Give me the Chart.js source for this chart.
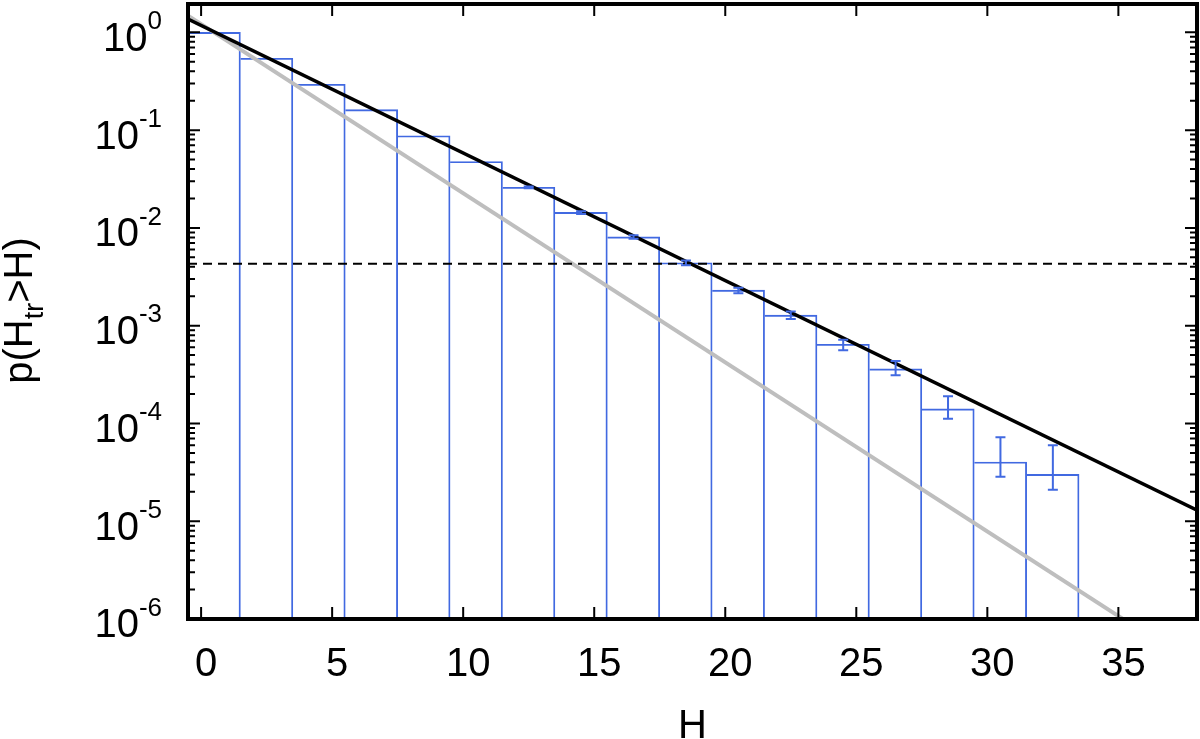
<!DOCTYPE html>
<html>
<head>
<meta charset="utf-8">
<script src="https://cdn.jsdelivr.net/npm/chart.js@4.4.1/dist/chart.umd.min.js"></script>
<style>
html, body { margin: 0; padding: 0; background: #fff; }
#wrap { width: 1200px; height: 739px; }
</style>
</head>
<body>
<div id="wrap"><canvas id="chart" width="1200" height="739"></canvas></div>
<script>
// histogram of p(H_tr > H), bins of width 2
const binCenters = [0.5, 2.5, 4.5, 6.5, 8.5, 10.5, 12.5, 14.5, 16.5, 18.5, 20.5, 22.5, 24.5, 26.5, 28.5, 30.5, 32.5];
const pValues = [1.0, 0.543, 0.294, 0.162, 0.0875, 0.0478, 0.0260, 0.0144, 0.00809, 0.00440, 0.00231, 0.00128, 6.45e-4, 3.61e-4, 1.41e-4, 4.03e-5, 3.01e-5];
const errLow = [0.998, 0.540, 0.292, 0.160, 0.0865, 0.0471, 0.0255, 0.0139, 0.00775, 0.00415, 0.00214, 0.00117, 5.6e-4, 3.11e-4, 1.12e-4, 2.85e-5, 2.10e-5];
const errHigh = [1.002, 0.546, 0.296, 0.164, 0.0885, 0.0485, 0.0265, 0.0148, 0.00840, 0.00464, 0.00244, 0.00140, 7.2e-4, 4.35e-4, 1.90e-4, 7.24e-5, 5.97e-5];

// exponential fits
const fitX = [-0.5, 38];
const fitY = [1.37, 1.30e-5];
const refX = [-0.5, 36];
const refY = [1.48, 7.2e-7];

// threshold level
const levelX = [-0.5, 38];
const levelY = [4.3e-3, 4.3e-3];

const xTicks = [0, 5, 10, 15, 20, 25, 30, 35];
const yDecades = [-6, -5, -4, -3, -2, -1, 0];

const FONT = "'Liberation Sans', Arial, Helvetica, sans-serif";
const BLUE = '#4169e1';

const pts = (xs, ys) => xs.map((x, i) => ({x: x, y: ys[i]}));

const gnuplotFrame = {
    id: 'gnuplotFrame',
    afterDatasetsDraw(chart) {
        const {ctx, scales: {x, y}} = chart;
        ctx.save();
        ctx.strokeStyle = BLUE;
        ctx.lineWidth = 2;
        binCenters.forEach((c, i) => {
            const px = x.getPixelForValue(c);
            const lo = y.getPixelForValue(errLow[i]);
            const hi = y.getPixelForValue(errHigh[i]);
            if (Math.abs(lo - hi) < 1.5) return;
            ctx.beginPath();
            ctx.moveTo(px, lo); ctx.lineTo(px, hi);
            ctx.moveTo(px - 5, lo); ctx.lineTo(px + 5, lo);
            ctx.moveTo(px - 5, hi); ctx.lineTo(px + 5, hi);
            ctx.stroke();
        });
        ctx.restore();
    },
    afterDraw(chart) {
        const {ctx, chartArea: a, scales: {x, y}} = chart;
        ctx.save();
        ctx.strokeStyle = '#000';
        ctx.fillStyle = '#000';

        // tick marks, inward on all sides
        ctx.lineWidth = 2;
        ctx.beginPath();
        xTicks.forEach(t => {
            const px = x.getPixelForValue(t);
            ctx.moveTo(px, a.bottom); ctx.lineTo(px, a.bottom - 12);
            ctx.moveTo(px, a.top); ctx.lineTo(px, a.top + 12);
        });
        yDecades.forEach(d => {
            for (let m = 1; m <= 9; m++) {
                const v = m * Math.pow(10, d);
                if (v > y.max) break;
                const py = y.getPixelForValue(v);
                const len = m === 1 ? 12 : 7;
                ctx.moveTo(a.left, py); ctx.lineTo(a.left + len, py);
                ctx.moveTo(a.right, py); ctx.lineTo(a.right - len, py);
            }
        });
        ctx.stroke();

        // frame
        ctx.lineWidth = 4;
        ctx.strokeRect(a.left, a.top, a.right - a.left, a.bottom - a.top);

        // x tick labels
        ctx.font = '40px ' + FONT;
        ctx.textAlign = 'center';
        ctx.textBaseline = 'alphabetic';
        xTicks.forEach(t => {
            ctx.fillText(String(t), x.getPixelForValue(t) + 5, 676);
        });

        // y tick labels 10^k
        ctx.textAlign = 'left';
        yDecades.forEach(d => {
            const py = y.getPixelForValue(Math.pow(10, d));
            const exp = String(d);
            ctx.font = '40px ' + FONT;
            const wBase = ctx.measureText('10').width;
            ctx.font = '26px ' + FONT;
            const wExp = ctx.measureText(exp).width;
            const x0 = 162 - wBase - wExp;
            ctx.font = '40px ' + FONT;
            ctx.fillText('10', x0, py + 18.4);
            ctx.font = '26px ' + FONT;
            ctx.fillText(exp, x0 + wBase, py - 3.3);
        });

        // x title
        ctx.font = '40px ' + FONT;
        ctx.textAlign = 'center';
        ctx.fillText('H', (a.left + a.right) / 2, 738);

        // y title p(H_tr>H)
        ctx.save();
        ctx.translate(31.7, 310.5);
        ctx.rotate(-Math.PI / 2);
        ctx.textAlign = 'left';
        ctx.font = '40px ' + FONT;
        const w1 = ctx.measureText('p(H').width;
        const w3 = ctx.measureText('>H)').width;
        ctx.font = '27px ' + FONT;
        const w2 = ctx.measureText('tr').width;
        let tx = -(w1 + w2 + w3) / 2;
        ctx.font = '40px ' + FONT;
        ctx.fillText('p(H', tx, 0);
        tx += w1;
        ctx.font = '27px ' + FONT;
        ctx.fillText('tr', tx, 11);
        tx += w2;
        ctx.font = '40px ' + FONT;
        ctx.fillText('>H)', tx, 0);
        ctx.restore();

        ctx.restore();
    }
};

new Chart(document.getElementById('chart'), {
    type: 'bar',
    data: {
        datasets: [
            {
                type: 'line',
                data: pts(refX, refY),
                borderColor: '#bebebe',
                borderWidth: 4,
                pointRadius: 0,
                fill: false,
                order: 1
            },
            {
                type: 'line',
                data: pts(fitX, fitY),
                borderColor: '#000',
                borderWidth: 3.5,
                pointRadius: 0,
                fill: false,
                order: 0
            },
            {
                type: 'line',
                data: pts(levelX, levelY),
                borderColor: '#000',
                borderWidth: 2,
                borderDash: [9, 6],
                pointRadius: 0,
                fill: false,
                order: 0
            },
            {
                type: 'bar',
                data: pts(binCenters, pValues),
                backgroundColor: 'rgba(255,255,255,0)',
                borderColor: BLUE,
                borderWidth: {top: 1.2, right: 1.2, left: 0, bottom: 0},
                barPercentage: 1,
                categoryPercentage: 1,
                order: 3
            }
        ]
    },
    options: {
        responsive: false,
        animation: false,
        devicePixelRatio: 1,
        layout: {padding: {left: 188, right: 3, top: 4, bottom: 120}},
        plugins: {legend: {display: false}, tooltip: {enabled: false}},
        scales: {
            x: {type: 'linear', min: -0.5, max: 38, offset: false, display: false},
            y: {type: 'logarithmic', min: 1e-6, max: 1.95, display: false}
        }
    },
    plugins: [gnuplotFrame]
});
</script>
</body>
</html>
